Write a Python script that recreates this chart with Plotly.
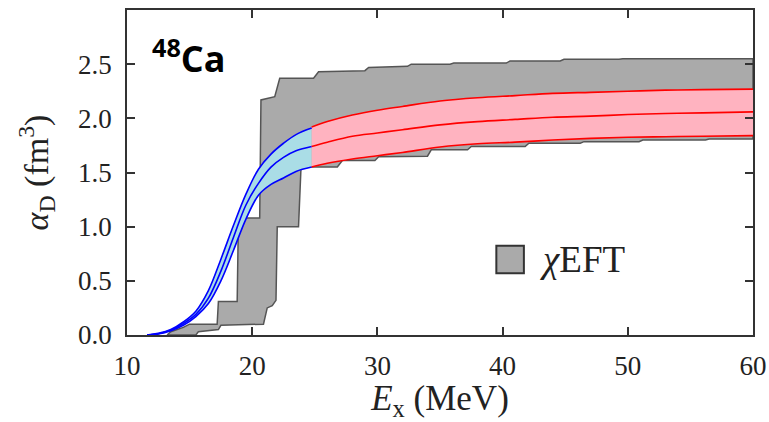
import plotly.graph_objects as go

# ---- data ----
# chiEFT band (gray), stepwise upper and lower edges
eft_upper_x = [13.2, 13.5, 14.5, 15.0, 17.2, 17.3, 18.8, 18.9, 20.6, 20.7, 21.8, 22.2, 24.9, 25.3, 29.0, 29.3, 32.4, 32.7, 35.8, 36.1, 40.3, 40.6, 44.6, 44.9, 49.3, 49.6, 60.0]
eft_upper_y = [0.0, 0.03, 0.07, 0.10, 0.10, 0.31, 0.31, 1.08, 1.08, 2.17, 2.20, 2.37, 2.37, 2.43, 2.44, 2.47, 2.48, 2.50, 2.50, 2.51, 2.51, 2.53, 2.53, 2.545, 2.545, 2.55, 2.55]
eft_lower_x = [13.2, 15.5, 15.7, 17.3, 17.5, 20.9, 21.2, 21.6, 21.9, 22.0, 23.7, 23.9, 26.8, 27.2, 29.8, 30.1, 34.0, 34.3, 37.2, 37.5, 41.8, 42.1, 46.2, 46.5, 50.9, 51.2, 56.2, 56.5, 60.0]
eft_lower_y = [0.0, 0.0, 0.03, 0.05, 0.09, 0.10, 0.25, 0.27, 0.32, 1.00, 1.00, 1.55, 1.55, 1.61, 1.61, 1.645, 1.65, 1.71, 1.71, 1.74, 1.74, 1.77, 1.77, 1.785, 1.785, 1.80, 1.80, 1.81, 1.81]

# low-energy part (blue)
blue_x = [11.6, 12.5, 13.5, 14.5, 15.5, 16.5, 17.5, 18.5, 19.5, 20.5, 21.5, 22.5, 23.5, 24.75]
blue_upper = [0.0, 0.015, 0.05, 0.12, 0.22, 0.41, 0.70, 1.01, 1.30, 1.53, 1.67, 1.77, 1.85, 1.91]
blue_mid = [0.0, 0.012, 0.045, 0.105, 0.19, 0.34, 0.59, 0.90, 1.20, 1.40, 1.55, 1.64, 1.70, 1.74]
blue_lower = [0.0, 0.01, 0.04, 0.09, 0.17, 0.29, 0.50, 0.78, 1.07, 1.29, 1.39, 1.45, 1.51, 1.55]

# high-energy part (red)
red_x = [24.75, 26, 28, 30, 32, 35, 38, 41, 44, 47, 50, 53, 56, 60]
red_upper = [1.92, 1.97, 2.03, 2.075, 2.11, 2.16, 2.19, 2.21, 2.23, 2.24, 2.25, 2.26, 2.265, 2.27]
red_mid = [1.74, 1.78, 1.835, 1.865, 1.895, 1.94, 1.97, 1.99, 2.01, 2.02, 2.035, 2.045, 2.05, 2.06]
red_lower = [1.55, 1.585, 1.625, 1.655, 1.685, 1.735, 1.765, 1.78, 1.80, 1.815, 1.825, 1.83, 1.835, 1.84]

x_ticks = [10, 20, 30, 40, 50, 60]
y_ticks = [0.0, 0.5, 1.0, 1.5, 2.0, 2.5]
legend_label = "<i>χ</i>EFT"
nucleus_label = "<b><sup>48</sup>Ca</b>"

GRAY_FILL = "#aaaaaa"
GRAY_EDGE = "#555555"
SERIF = "Liberation Serif"

fig = go.Figure()

# gray band
fig.add_trace(go.Scatter(
    x=eft_upper_x + eft_lower_x[::-1],
    y=eft_upper_y + eft_lower_y[::-1],
    fill="toself", fillcolor=GRAY_FILL, mode="lines",
    line=dict(color=GRAY_EDGE, width=1.5), hoverinfo="skip", showlegend=False))

# blue band fill
fig.add_trace(go.Scatter(
    x=blue_x + blue_x[::-1], y=blue_upper + blue_lower[::-1],
    fill="toself", fillcolor="#aadde6", mode="none", showlegend=False))
# red band fill
fig.add_trace(go.Scatter(
    x=red_x + red_x[::-1], y=red_upper + red_lower[::-1],
    fill="toself", fillcolor="#ffb3c0", mode="none", showlegend=False))

for ys in (blue_upper, blue_mid, blue_lower):
    fig.add_trace(go.Scatter(x=blue_x, y=ys, mode="lines", line=dict(color="#0000ff", width=1.6, shape="spline"), showlegend=False))
for ys in (red_upper, red_mid, red_lower):
    fig.add_trace(go.Scatter(x=red_x, y=ys, mode="lines", line=dict(color="#ff0000", width=1.6, shape="spline"), showlegend=False))

axis_common = dict(
    showgrid=False, zeroline=False, showline=True, linecolor="#333333", linewidth=1.5,
    mirror="ticks", ticks="inside", ticklen=8, tickwidth=1.5, tickcolor="#333333",
    tickfont=dict(family=SERIF, size=27, color="#222222"), automargin=False,
    ticklabeloverflow="allow",
)

fig.update_layout(
    width=769, height=422,
    margin=dict(l=127, r=16, t=10, b=87),
    paper_bgcolor="white", plot_bgcolor="white",
    xaxis=dict(range=[10, 60], tickvals=x_ticks, ticktext=[str(v) for v in x_ticks],
               title=dict(text="<i>E</i><sub>x</sub> (MeV)", font=dict(family=SERIF, size=35, color="#222222"), standoff=9),
               ticklabelstandoff=6, **axis_common),
    yaxis=dict(range=[0, 3.0], tickvals=y_ticks, ticktext=[f"{v:.1f}" for v in y_ticks],
               title=dict(text="<i>α</i><sub>D</sub> (fm<sup>3</sup>)", font=dict(family=SERIF, size=34, color="#222222"), standoff=19),
               ticklabelstandoff=8, **axis_common),
    showlegend=False,
)

# nucleus label
fig.add_annotation(text=nucleus_label, xref="paper", yref="paper", x=0.037, y=0.945,
                   xanchor="left", yanchor="top", showarrow=False,
                   font=dict(family="Open Sans", size=36, color="black"))

# legend key and text
fig.add_shape(type="rect", xref="paper", yref="paper", x0=0.590, x1=0.634, y0=0.190, y1=0.275,
              fillcolor=GRAY_FILL, line=dict(color="#333333", width=2))
fig.add_annotation(text=legend_label, xref="paper", yref="paper", x=0.657, y=0.232,
                   xanchor="left", yanchor="middle", showarrow=False,
                   font=dict(family=SERIF, size=37, color="#222222"))

fig.write_html("out.html", config={"displayModeBar": False},
               post_script="document.body.style.margin='0';document.body.style.overflow='hidden';")
